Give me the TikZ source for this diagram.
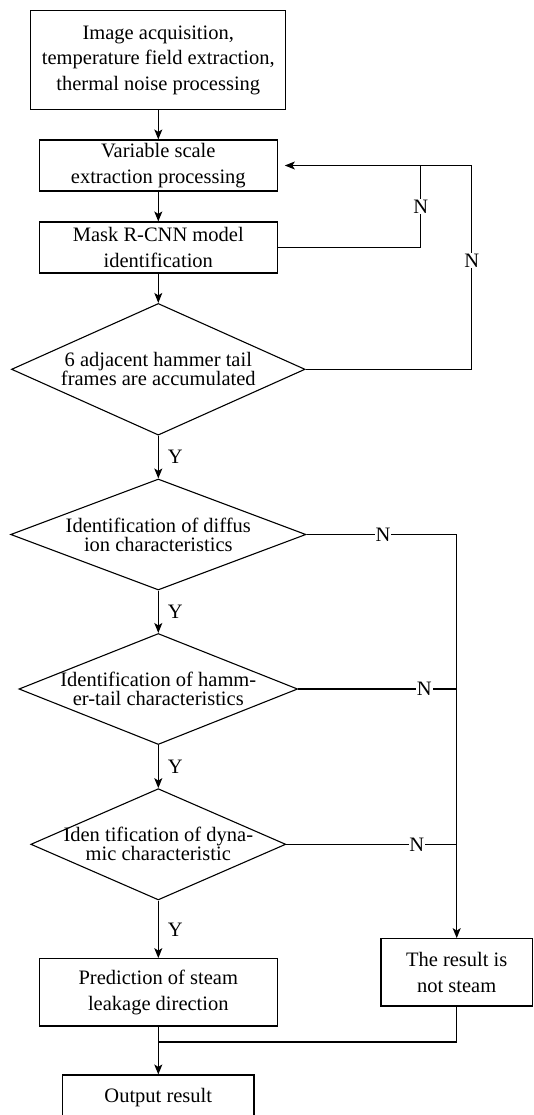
\documentclass[tikz,border=0pt]{standalone}
\usepackage{fontspec}
\setmainfont{Liberation Serif}
\usetikzlibrary{shapes.geometric,arrows.meta,calc}
\begin{document}
\begin{tikzpicture}[x=1pt,y=-1pt, line width=1.1pt,
  box/.style={draw, rectangle, align=center, inner sep=0pt, font=\fontsize{20.5}{25.5}\selectfont},
  dia/.style={draw, diamond, inner sep=0pt},
  dtext/.style={align=center, inner sep=0pt, font=\fontsize{20.5}{19}\selectfont},
  arr/.style={-{Stealth[length=10pt,width=8pt,inset=2.5pt]}},
  nlbl/.style={fill=white, inner sep=0.8pt, font=\fontsize{20.5}{24}\selectfont},
  ylbl/.style={anchor=west, inner sep=0pt, xshift=9pt, font=\fontsize{20.5}{24}\selectfont}]
\useasboundingbox (0,0) rectangle (534,1115);

% boxes
\node[box, minimum width=255pt, minimum height=98.3pt] (b1) at (158.3,60) {Image acquisition,\\temperature field extraction,\\thermal noise processing};
\node[box, minimum width=238pt, minimum height=51pt] (b2) at (158.3,165.5) {Variable scale\\extraction processing};
\node[box, minimum width=238pt, minimum height=51pt] (b3) at (158.3,247.5) {Mask R-CNN model\\identification};

% diamonds
\node[dia, minimum width=293.6pt, minimum height=131.7pt] (d1) at (158.3,369.3) {};
\node[dtext] (t1) at (d1.center) {6 adjacent hammer tail\\frames are accumulated};
\node[dia, minimum width=295.3pt, minimum height=111pt] (d2) at (158.3,534.5) {};
\node[dtext] (t2) at (d2.center) {Identification of diffus\\ion characteristics};
\node[dia, minimum width=278.7pt, minimum height=111pt] (d3) at (158.3,689) {};
\node[dtext] (t3) at (d3.center) {Identification of hamm-\\er-tail characteristics};
\node[dia, minimum width=255pt, minimum height=111.3pt] (d4) at (158.3,844.3) {};
\node[dtext] (t4) at (d4.center) {Iden tification of dyna-\\mic characteristic};

\node[box, minimum width=238pt, minimum height=67.3pt] (pr) at (158.3,992.3) {Prediction of steam\\leakage direction};
\node[box, minimum width=151.4pt, minimum height=67.3pt] (ns) at (456.7,972.3) {The result is\\not steam};
\node[box, minimum width=191.4pt, minimum height=46pt] (out) at (158.3,1098) {Output result};

% main flow
\draw[arr] (b1) -- (b2);
\draw[arr] (b2) -- (b3);
\draw[arr] (b3) -- (d1);
\draw[arr] (d1) -- node[ylbl]{Y} (d2);
\draw[arr] (d2) -- node[ylbl]{Y} (d3);
\draw[arr] (d3) -- node[ylbl]{Y} (d4);
\draw[arr] (d4) -- node[ylbl]{Y} (pr);

% feedback loops
\coordinate (in1) at (420.7,165.5);
\coordinate (out1) at (471.7,165.5);
\draw (b3.east) -| node[nlbl,pos=0.75]{N} (in1);
\draw[arr, shorten >=7pt] (d1.east) -| node[nlbl,pos=0.767]{N} (out1) -- (b2.east);

% N branches
\draw (d2.east) -- node[nlbl,pos=0.509]{N} (d2.east -| ns.north);
\draw[arr] (d2.east -| ns.north) -- (ns.north);
\draw (d3.east) -- node[nlbl,pos=0.796]{N} (d3.east -| ns.north);
\draw (d4.east) -- node[nlbl,pos=0.766]{N} (d4.east -| ns.north);

% merge
\coordinate (m) at (158.3,1042);
\draw (ns.south) |- (m);
\draw[arr] (pr) -- (out);
\end{tikzpicture}
\end{document}
